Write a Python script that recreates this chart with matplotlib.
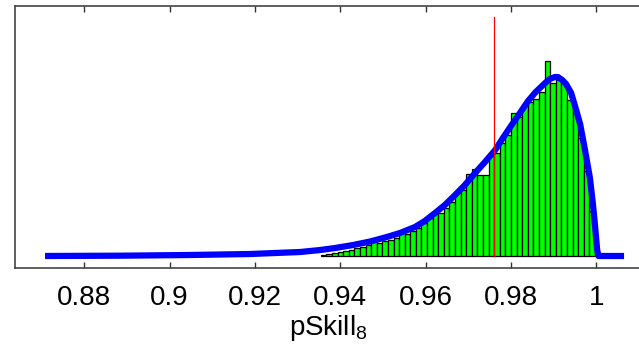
import numpy as np
import matplotlib.pyplot as plt

plt.rcParams['font.family'] = ['Liberation Sans', 'DejaVu Sans']
plt.rcParams['mathtext.default'] = 'regular'

# histogram (bars, left to right)
bin_left = 0.93541
bin_width = 0.001312
counts = [1.5, 2, 3, 4, 5, 6, 8, 9, 11, 14,
          13, 15, 16, 18, 25, 22, 25, 28, 33, 38,
          42, 43, 48, 54, 64, 66, 82, 87, 81, 81,
          100, 103, 113, 121, 143, 139, 152, 154, 157, 164,
          195, 173, 176, 173, 156, 147, 118, 85, 45]

# fitted density curve
curve_x = [0.8708, 0.8884, 0.9048, 0.9189, 0.9306, 0.9353, 0.9388, 0.9430,
           0.9470, 0.9509, 0.9540, 0.9575, 0.9598, 0.9622, 0.9645, 0.9669,
           0.9692, 0.9716, 0.9739, 0.9763, 0.9781, 0.9800, 0.9821, 0.9840,
           0.9858, 0.9880, 0.9891, 0.9903, 0.9910, 0.9920, 0.9929, 0.9941,
           0.9950, 0.9962, 0.9973, 0.9985, 0.9992, 0.9997, 1.0002, 1.0005, 1.0065]
curve_y = [0, 0.3, 1, 2, 4, 6, 8, 11,
           14.5, 19, 23, 29, 35, 43, 51, 61,
           71, 83, 94, 106, 118, 130, 143, 155,
           164, 173, 177, 179, 179, 176, 172, 163,
           150, 132, 107, 78, 52, 30, 6, 0, 0]

true_value = 0.97595
xticks = [0.88, 0.9, 0.92, 0.94, 0.96, 0.98, 1.0]
xticklabels = ['0.88', '0.9', '0.92', '0.94', '0.96', '0.98', '1']

W, H = 639, 351
fig = plt.figure(figsize=(W/100, H/100), dpi=100)
ax = fig.add_axes([15/W, 1-268/H, (641-15)/W, (268-6)/H])

centers = bin_left + bin_width*(np.arange(len(counts)) + 0.5)
ax.bar(centers, counts, width=bin_width, color='#00ff00', edgecolor='black', linewidth=0.9, zorder=2)
ax.plot(curve_x, curve_y, color='#0000ff', lw=4.5, zorder=3, solid_capstyle='butt', solid_joinstyle='round')
ax.plot([true_value, true_value], [0, 239], color='red', lw=0.9, zorder=4)

ax.set_xlim(0.86376, 1.01047)
ax.set_ylim(-12, 250)
ax.set_yticks([])
ax.set_xticks(xticks)
ax.set_xticklabels(xticklabels, fontsize=20)
ax.tick_params(axis='x', direction='in', length=4, width=1, color='#333333', top=True, pad=12)
for s in ax.spines.values():
    s.set_color('#444444')
    s.set_linewidth(1.2)
ax.set_xlabel('pSkill$_8$', fontsize=20, labelpad=2)

fig.savefig('out.png', dpi=100)
